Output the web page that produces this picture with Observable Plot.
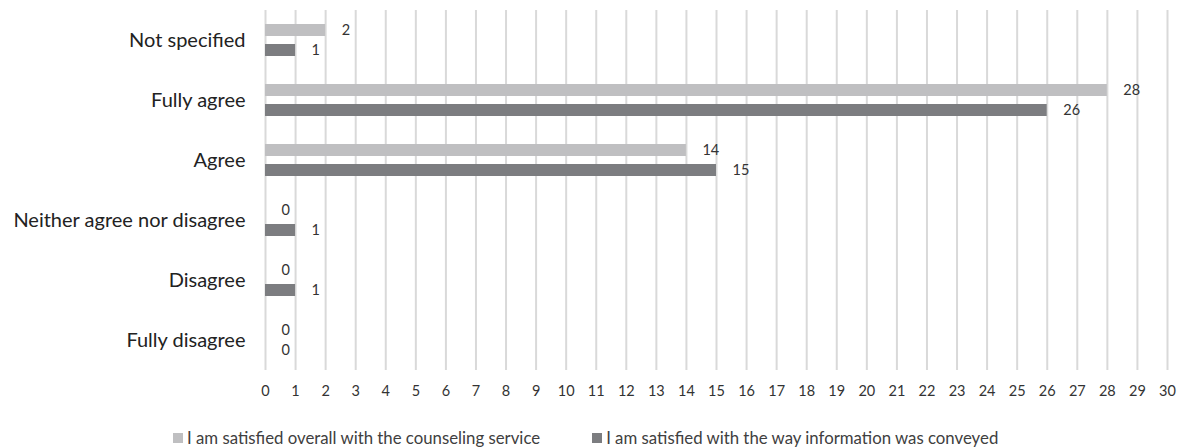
<!DOCTYPE html>
<html>
<head>
<meta charset="utf-8">
<script src="https://cdn.jsdelivr.net/npm/d3@7"></script>
<script src="https://cdn.jsdelivr.net/npm/@observablehq/plot@0.6"></script>
<style>
  html, body { margin: 0; padding: 0; background: #fff; }
  body { width: 1183px; height: 447px; overflow: hidden; font-family: Lato, "Open Sans", sans-serif; }
  #legend { display: flex; align-items: center; margin-left: 173px; margin-top: 27px; font-size: 16.8px; color: #404040; }
  .item { display: flex; align-items: center; margin-right: 52px; }
  .sw { width: 10px; height: 10px; margin-right: 4px; }
</style>
</head>
<body>
<div id="chart"></div>
<div id="legend"></div>
<script>
const categories = ["Not specified", "Fully agree", "Agree", "Neither agree nor disagree", "Disagree", "Fully disagree"];
const series = ["I am satisfied overall with the counseling service", "I am satisfied with the way information was conveyed"];
const overallValues = [2, 28, 14, 0, 0, 0];
const conveyedValues = [1, 26, 15, 1, 1, 0];
const xTicks = [0,1,2,3,4,5,6,7,8,9,10,11,12,13,14,15,16,17,18,19,20,21,22,23,24,25,26,27,28,29,30];
const colors = ["#bfbfc1", "#7c7d80"];

const data = [];
categories.forEach((c, i) => {
  data.push({category: c, series: series[0], value: overallValues[i]});
  data.push({category: c, series: series[1], value: conveyedValues[i]});
});

const chart = Plot.plot({
  width: 1183,
  height: 400,
  marginLeft: 265,
  marginRight: 16,
  marginTop: 10,
  marginBottom: 30,
  style: {fontFamily: "Lato, 'Open Sans', sans-serif", color: "#404040", background: "#fff"},
  x: {domain: [0, 30]},
  y: {domain: series, paddingInner: 0.4, paddingOuter: 0.7, axis: null},
  fy: {domain: categories, padding: 0},
  color: {domain: series, range: colors},
  marks: [
    Plot.gridX(xTicks, {stroke: "#d9d9d9", strokeOpacity: 1, strokeWidth: 2}),
    Plot.barX(data, {x: "value", y: "series", fy: "category", fill: "series"}),
    Plot.text(data, {x: "value", y: "series", fy: "category", text: d => String(d.value), textAnchor: "start", dx: 16, fontSize: 14.5, fill: "#333"}),
    Plot.axisX({ticks: xTicks, tickSize: 0, tickPadding: 15, fontSize: 14.5, label: null, tickFormat: d => String(d), fill: "#333"}),
    Plot.axisFy({anchor: "left", tickSize: 0, tickPadding: 20, fontSize: 20, label: null, fill: "#222"})
  ]
});
document.getElementById("chart").appendChild(chart);

const legend = document.getElementById("legend");
series.forEach((s, i) => {
  const item = document.createElement("div");
  item.className = "item";
  const sw = document.createElement("div");
  sw.className = "sw";
  sw.style.background = colors[i];
  const label = document.createElement("span");
  label.textContent = s;
  item.appendChild(sw);
  item.appendChild(label);
  legend.appendChild(item);
});
</script>
</body>
</html>
